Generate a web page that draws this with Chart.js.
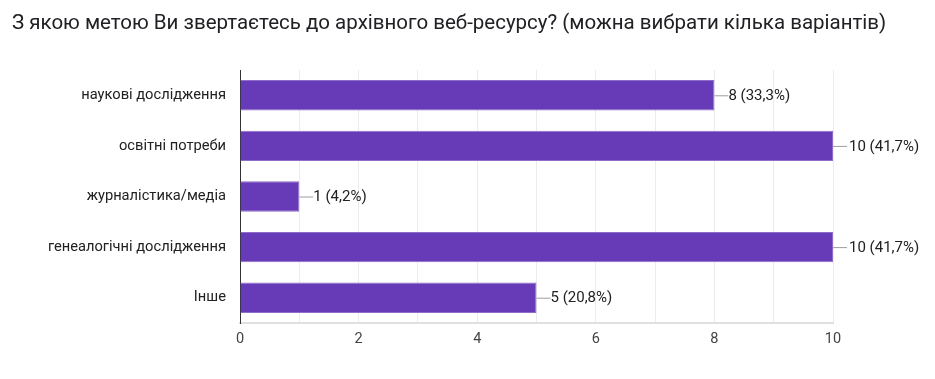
<!DOCTYPE html>
<html>
<head>
<meta charset="utf-8">
<script src="https://cdn.jsdelivr.net/npm/chart.js@4/dist/chart.umd.min.js"></script>
<style>
  body { margin: 0; background: #fff; }
  #title {
    position: absolute; left: 12px; top: 10px;
    font-family: Roboto, sans-serif; font-size: 20.5px; color: #202124;
  }
  #wrap { position: absolute; left: 0; top: 0; width: 935px; height: 379px; }
</style>
</head>
<body>
<div id="wrap"><canvas id="chart"></canvas></div>
<div id="title">З якою метою Ви звертаєтесь до архівного веб-ресурсу? (можна вибрати кілька варіантів)</div>
<script>
const categories = ['наукові дослідження', 'освітні потреби', 'журналістика/медіа', 'генеалогічні дослідження', 'Інше'];
const counts = [8, 10, 1, 10, 5];
const percents = ['33,3%', '41,7%', '4,2%', '41,7%', '20,8%'];

const valueLabels = {
    id: 'valueLabels',
    afterDatasetsDraw(chart) {
        const ctx = chart.ctx;
        const meta = chart.getDatasetMeta(0);
        ctx.save();
        ctx.font = '15px Roboto, sans-serif';
        ctx.textBaseline = 'middle';
        meta.data.forEach((bar, i) => {
            ctx.strokeStyle = '#9e9e9e';
            ctx.lineWidth = 1;
            ctx.beginPath();
            ctx.moveTo(bar.x, bar.y + 0.5);
            ctx.lineTo(bar.x + 14, bar.y + 0.5);
            ctx.stroke();
            ctx.fillStyle = '#212121';
            ctx.fillText(counts[i] + ' (' + percents[i] + ')', bar.x + (counts[i] === 10 ? 16 : 14), bar.y + 1);
        });
        ctx.restore();
    }
};

new Chart(document.getElementById('chart'), {
    type: 'bar',
    data: {
        labels: categories,
        datasets: [{
            data: counts,
            backgroundColor: '#673ab7',
            borderColor: '#8e6cc9',
            borderWidth: 1,
            barPercentage: 0.6,
            categoryPercentage: 1
        }]
    },
    options: {
        indexAxis: 'y',
        responsive: true,
        maintainAspectRatio: false,
        animation: false,
        layout: { padding: { top: 70, right: 102, left: 0, bottom: 0 } },
        plugins: { legend: { display: false }, tooltip: { enabled: false } },
        scales: {
            x: {
                min: 0, max: 10,
                ticks: {
                    stepSize: 1,
                    color: '#444',
                    font: { family: 'Roboto, sans-serif', size: 14.5 },
                    padding: 8,
                    callback: v => v % 2 === 0 ? v : ''
                },
                grid: { color: '#ececec', drawTicks: false },
                border: { color: '#e0e0e0', width: 2 },
                afterFit(scale) { scale.height = 56; }
            },
            y: {
                ticks: {
                    color: '#212121',
                    font: { family: 'Roboto, sans-serif', size: 14.7 },
                    padding: 14
                },
                grid: { display: false, drawTicks: false },
                border: { color: '#333', width: 1 },
                afterFit(scale) { scale.width = 240; }
            }
        }
    },
    plugins: [valueLabels]
});
</script>
</body>
</html>
